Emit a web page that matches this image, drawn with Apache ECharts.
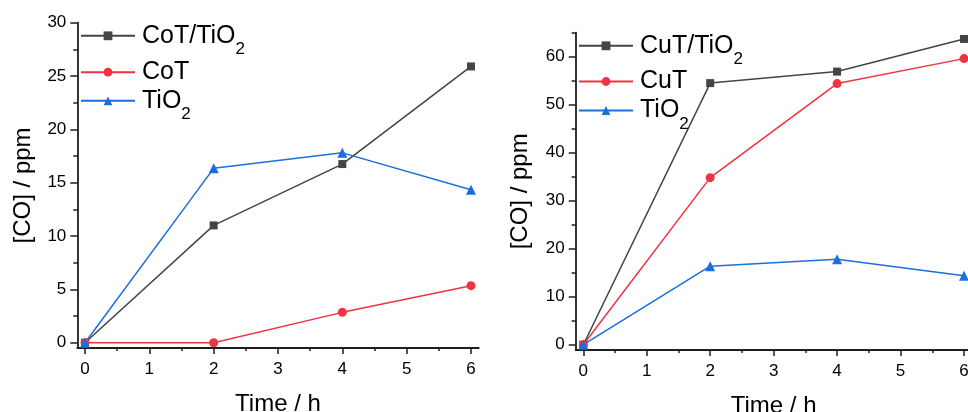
<!DOCTYPE html>
<html><head><meta charset="utf-8">
<script src="https://cdn.jsdelivr.net/npm/echarts@6/dist/echarts.min.js"></script>
<style>html,body{margin:0;padding:0;background:#fff}#c{width:968px;height:412px}</style>
</head><body><div id="c"></div>
<script>
// ---- data ----
const times = [0, 2, 4, 6];
const coTTiO2 = [0, 11.0, 16.75, 25.9];
const coT = [0, 0, 2.85, 5.35];
const tiO2 = [0, 16.35, 17.8, 14.35];
const cuTTiO2 = [0, 54.5, 56.9, 63.7];
const cuT = [0, 34.8, 54.4, 59.6];
const xTicks = [0, 1, 2, 3, 4, 5, 6];
const xMinor = [0.5, 1.5, 2.5, 3.5, 4.5, 5.5];
const yTicksLeft = [0, 5, 10, 15, 20, 25, 30];
const yMinorLeft = [2.5, 7.5, 12.5, 17.5, 22.5, 27.5];
const yTicksRight = [0, 10, 20, 30, 40, 50, 60];
const yMinorRight = [5, 15, 25, 35, 45, 55, 65];
const namesLeft = ['CoT/TiO2', 'CoT', 'TiO2'];
const namesRight = ['CuT/TiO2', 'CuT', 'TiO2'];
const xTitle = 'Time / h';
const yTitle = '[CO] / ppm';

// ---- style ----
const FONT = '"Liberation Sans", Arial, Helvetica, sans-serif';
const AX = '#1e1e1e';
const TXT = '#000';
const C_BLACK = '#444444', C_RED = '#ef3340', C_BLUE = '#1b6fdc';

function xMajor(gi) {
  return { type: 'value', gridIndex: gi, position: 'bottom', min: -0.12, max: 6.12,
    name: xTitle, nameLocation: 'middle', nameGap: 44,
    nameTextStyle: { fontSize: 24, color: TXT, fontFamily: FONT },
    axisLine: { show: true, onZero: false, lineStyle: { color: AX, width: 1.8 } },
    axisTick: { show: true, inside: false, length: 6, customValues: xTicks, lineStyle: { color: AX, width: 1.5 } },
    axisLabel: { show: true, customValues: xTicks, margin: 13, fontSize: 17, color: TXT, fontFamily: FONT },
    splitLine: { show: false } };
}
function xMin(gi) {
  return { type: 'value', gridIndex: gi, position: 'bottom', min: -0.12, max: 6.12,
    axisLine: { show: false, onZero: false },
    axisTick: { show: true, inside: false, length: 3, customValues: xMinor, lineStyle: { color: AX, width: 1.5 } },
    axisLabel: { show: false }, splitLine: { show: false } };
}
function yMajor(gi, min, max, ticks, gap) {
  return { type: 'value', gridIndex: gi, position: 'left', min, max,
    name: yTitle, nameLocation: 'middle', nameGap: gap,
    nameTextStyle: { fontSize: 24, color: TXT, fontFamily: FONT },
    axisLine: { show: true, onZero: false, lineStyle: { color: AX, width: 1.8 } },
    axisTick: { show: true, inside: false, length: 7, customValues: ticks, lineStyle: { color: AX, width: 1.5 } },
    axisLabel: { show: true, customValues: ticks, margin: 11, fontSize: 17, color: TXT, fontFamily: FONT },
    splitLine: { show: false } };
}
function yMin(gi, min, max, ticks) {
  return { type: 'value', gridIndex: gi, position: 'left', min, max,
    axisLine: { show: false, onZero: false },
    axisTick: { show: true, inside: false, length: 4, customValues: ticks, lineStyle: { color: AX, width: 1.5 } },
    axisLabel: { show: false }, splitLine: { show: false } };
}
function mk(name, vals, xi, yi, color, symbol, size) {
  return { name, type: 'line', xAxisIndex: xi, yAxisIndex: yi,
    data: times.map((t, i) => [t, vals[i]]),
    symbol, symbolSize: size, showSymbol: true,
    lineStyle: { color, width: 1.5 }, itemStyle: { color },
    emphasis: { disabled: true } };
}
function fmt(n) {
  return n.endsWith('2') ? '{m|' + n.slice(0, -1) + '}{s|2}' : '{m|' + n + '}';
}
const rich = {
  m: { fontSize: 25, lineHeight: 25, verticalAlign: 'middle', padding: [0, 0, 0, 2], color: TXT, fontFamily: FONT },
  s: { fontSize: 17, lineHeight: 17, padding: [18, 0, 0, 0], verticalAlign: 'top', color: TXT, fontFamily: FONT }
};
function leg(name, left, top) {
  return { data: [name], left, top, orient: 'vertical', padding: 0, itemWidth: 54, itemHeight: 11,
    itemGap: 0, selectedMode: false, formatter: fmt,
    textStyle: { fontSize: 25, lineHeight: 25, color: TXT, fontFamily: FONT, rich } };
}

const chart = echarts.init(document.getElementById('c'), null, { renderer: 'canvas' });
chart.setOption({
  animation: false,
  backgroundColor: '#fff',
  grid: [
    { left: 77.3, top: 22.7, width: 401.4, height: 325.4, outerBoundsMode: 'none', containLabel: false },
    { left: 575.7, top: 32.7, width: 395.9, height: 317.3, outerBoundsMode: 'none', containLabel: false }
  ],
  xAxis: [xMajor(0), xMin(0), xMajor(1), xMin(1)],
  yAxis: [
    yMajor(0, -0.5, 30, yTicksLeft, 42), yMin(0, -0.5, 30, yMinorLeft),
    yMajor(1, -1.1, 65, yTicksRight, 43), yMin(1, -1.1, 65, yMinorRight)
  ],
  legend: [
    leg(namesLeft[0], 80, 23.3), leg(namesLeft[1], 80, 59.7), leg(namesLeft[2], 80, 88.3),
    leg(namesRight[0], 578, 33.3), leg(namesRight[1], 578, 69), leg(namesRight[2], 578, 98)
  ],
  series: [
    mk(namesLeft[0], coTTiO2, 0, 0, C_BLACK, 'rect', 8),
    mk(namesLeft[1], coT, 0, 0, C_RED, 'circle', 9),
    mk(namesLeft[2], tiO2, 0, 0, C_BLUE, 'triangle', 10),
    mk(namesRight[0], cuTTiO2, 2, 2, C_BLACK, 'rect', 8),
    mk(namesRight[1], cuT, 2, 2, C_RED, 'circle', 9),
    mk(namesRight[2], tiO2, 2, 2, C_BLUE, 'triangle', 10)
  ]
});
</script></body></html>
